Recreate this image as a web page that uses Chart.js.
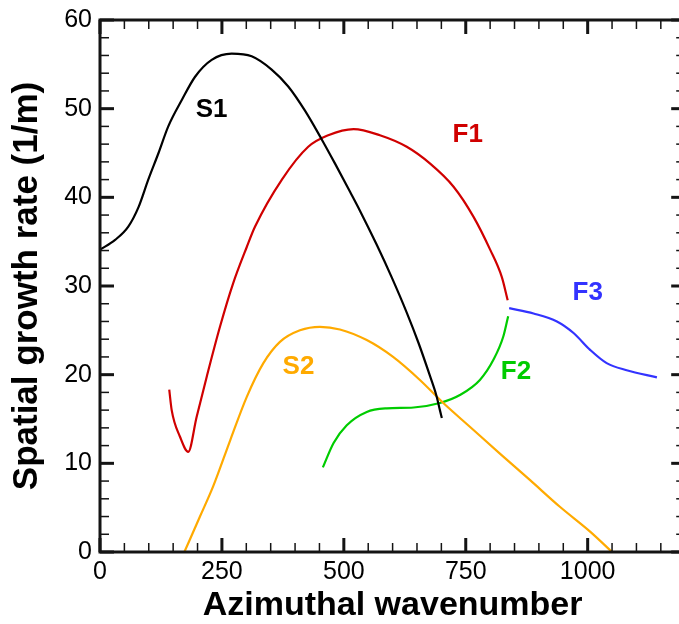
<!DOCTYPE html>
<html><head><meta charset="utf-8">
<script src="https://cdn.jsdelivr.net/npm/chart.js@4/dist/chart.umd.min.js"></script>
<style>html,body{margin:0;padding:0;overflow:hidden;background:#fff;width:679px;height:624px}canvas{display:block}</style>
</head><body>
<canvas id="c" width="700" height="624"></canvas>
<script>
// ---- data ----
const xTickValues = [0, 250, 500, 750, 1000];
const yTickValues = [0, 10, 20, 30, 40, 50, 60];
const xTitle = "Azimuthal wavenumber";
const yTitle = "Spatial growth rate (1/m)";

const s1X = [0, 31, 58, 79, 99, 120, 140, 168, 195, 229, 270, 311, 352, 386, 420, 455, 482, 513, 533, 567, 598, 629, 653, 677, 690, 697, 701];
const s1Y = [34.1, 35.2, 36.7, 38.9, 42.0, 45.0, 48.0, 51.0, 53.6, 55.5, 56.2, 55.9, 54.4, 52.5, 49.8, 46.5, 43.8, 40.6, 38.5, 34.7, 31.0, 27.0, 23.6, 19.8, 17.6, 16.0, 15.1];

const f1X = [142, 147, 164, 181, 198, 219, 246, 273, 301, 318, 373, 427, 468, 520, 574, 629, 677, 725, 766, 800, 824, 836];
const f1Y = [18.3, 16.0, 13.0, 11.3, 15.2, 19.8, 25.4, 30.3, 34.4, 36.7, 42.0, 45.7, 47.0, 47.7, 47.0, 45.7, 43.8, 41.2, 37.8, 34.1, 31.0, 28.4];

const s2X = [173, 205, 232, 267, 301, 335, 369, 410, 451, 492, 547, 601, 656, 704, 759, 820, 882, 943, 1005, 1050];
const s2Y = [0, 4.0, 7.4, 12.6, 17.5, 21.3, 23.7, 25.0, 25.4, 25.1, 23.9, 22.0, 19.4, 16.8, 14.1, 11.1, 8.1, 5.1, 2.3, 0];

const f2X = [457, 479, 506, 547, 588, 643, 697, 738, 779, 807, 827, 837];
const f2Y = [9.55, 12.3, 14.3, 15.8, 16.2, 16.3, 16.8, 17.7, 19.4, 21.7, 24.3, 26.6];

const f3X = [839, 889, 937, 971, 1005, 1039, 1080, 1142];
const f3Y = [27.5, 26.9, 26.0, 24.7, 22.8, 21.3, 20.5, 19.7];

const seriesNames = ["S1", "F1", "S2", "F2", "F3"];
const seriesColors = ["#000000", "#d00000", "#ffaa00", "#00cc00", "#3333ff"];
const seriesXs = [s1X, f1X, s2X, f2X, f3X];
const seriesYs = [s1Y, f1Y, s2Y, f2Y, f3Y];

// curve labels in data coordinates
const curveLabels = [
  { text: "S1", x: 229, y: 49.9, color: "#000000" },
  { text: "F1", x: 754, y: 47.0, color: "#d00000" },
  { text: "F3", x: 1000, y: 29.2, color: "#3333ff" },
  { text: "S2", x: 407, y: 20.9, color: "#ffaa00" },
  { text: "F2", x: 853, y: 20.3, color: "#00cc00" }
];

// ---- chart ----
const FONT = "'Liberation Sans', Arial, Helvetica, sans-serif";
const FRAME_COLOR = '#141414';

const decorPlugin = {
  id: 'decor',
  afterDraw(chart) {
    const ctx = chart.ctx;
    const a = chart.chartArea;
    const xs = chart.scales.x, ys = chart.scales.y;
    ctx.save();
    // frame (filled path)
    const t = 3;
    ctx.fillStyle = FRAME_COLOR;
    ctx.beginPath();
    ctx.rect(a.left - t / 2, a.top - t / 2, a.right - a.left + t, t);
    ctx.rect(a.left - t / 2, a.bottom - t / 2, a.right - a.left + t, t);
    ctx.rect(a.left - t / 2, a.top - t / 2, t, a.bottom - a.top + t);
    ctx.rect(a.right - t / 2, a.top - t / 2, t, a.bottom - a.top + t);
    ctx.fill();
    // inward ticks
    for (let v = 0; v <= 1200; v += 50) {
      const px = xs.getPixelForValue(v);
      const major = (v % 250) === 0;
      const L = major ? 14 : 9;
      const w = major ? 3 : 1.5;
      ctx.fillRect(px - w / 2, a.bottom - L, w, L);
      ctx.fillRect(px - w / 2, a.top, w, L);
    }
    for (let v = 0; v <= 60; v += 2) {
      const py = ys.getPixelForValue(v);
      const major = (v % 10) === 0;
      const L = major ? 14 : 9;
      const w = major ? 3 : 1.5;
      ctx.fillRect(a.left, py - w / 2, L, w);
      ctx.fillRect(a.right - L, py - w / 2, L, w);
    }
    // curve labels
    ctx.font = "bold 26px " + FONT;
    ctx.textAlign = 'center';
    ctx.textBaseline = 'middle';
    curveLabels.forEach(l => {
      ctx.fillStyle = l.color;
      ctx.fillText(l.text, xs.getPixelForValue(l.x), ys.getPixelForValue(l.y));
    });
    ctx.restore();
  }
};

new Chart(document.getElementById('c'), {
  type: 'line',
  data: {
    datasets: seriesNames.map((n, i) => ({
      label: n,
      data: seriesXs[i].map((v, j) => ({ x: v, y: seriesYs[i][j] })),
      borderColor: seriesColors[i],
      borderWidth: 2.2,
      pointRadius: 0,
      fill: false,
      cubicInterpolationMode: 'monotone'
    }))
  },
  options: {
    responsive: false,
    devicePixelRatio: 1,
    animation: false,
    layout: { padding: { left: 0, top: 20, right: 700 - 685.2, bottom: 0 } },
    plugins: { legend: { display: false }, tooltip: { enabled: false } },
    scales: {
      x: {
        type: 'linear', min: 0, max: 1200,
        grid: { display: false, drawTicks: false },
        border: { display: false },
        afterFit(s) { s.height = 72; s.paddingLeft = 0; s.paddingRight = 0; },
        afterBuildTicks(s) { s.ticks = xTickValues.map(v => ({ value: v })); },
        ticks: { font: { family: FONT, size: 25 }, color: '#000', padding: 5, maxRotation: 0, autoSkip: false, callback: v => String(v) },
        title: { display: true, text: xTitle, color: '#000', font: { family: FONT, size: 34, weight: 'bold', lineHeight: 1.1 }, padding: { top: 0, bottom: 0 } }
      },
      y: {
        type: 'linear', min: 0, max: 60,
        grid: { display: false, drawTicks: false },
        border: { display: false },
        afterFit(s) { s.width = 100; s.paddingTop = 0; s.paddingBottom = 0; },
        afterBuildTicks(s) { s.ticks = yTickValues.map(v => ({ value: v })); },
        ticks: { font: { family: FONT, size: 25 }, color: '#000', padding: 8, autoSkip: false, callback: v => String(v) },
        title: { display: true, text: yTitle, color: '#000', font: { family: FONT, size: 35, weight: 'bold' }, padding: { top: 6, bottom: 0 } }
      }
    }
  },
  plugins: [decorPlugin]
});
</script></body></html>
